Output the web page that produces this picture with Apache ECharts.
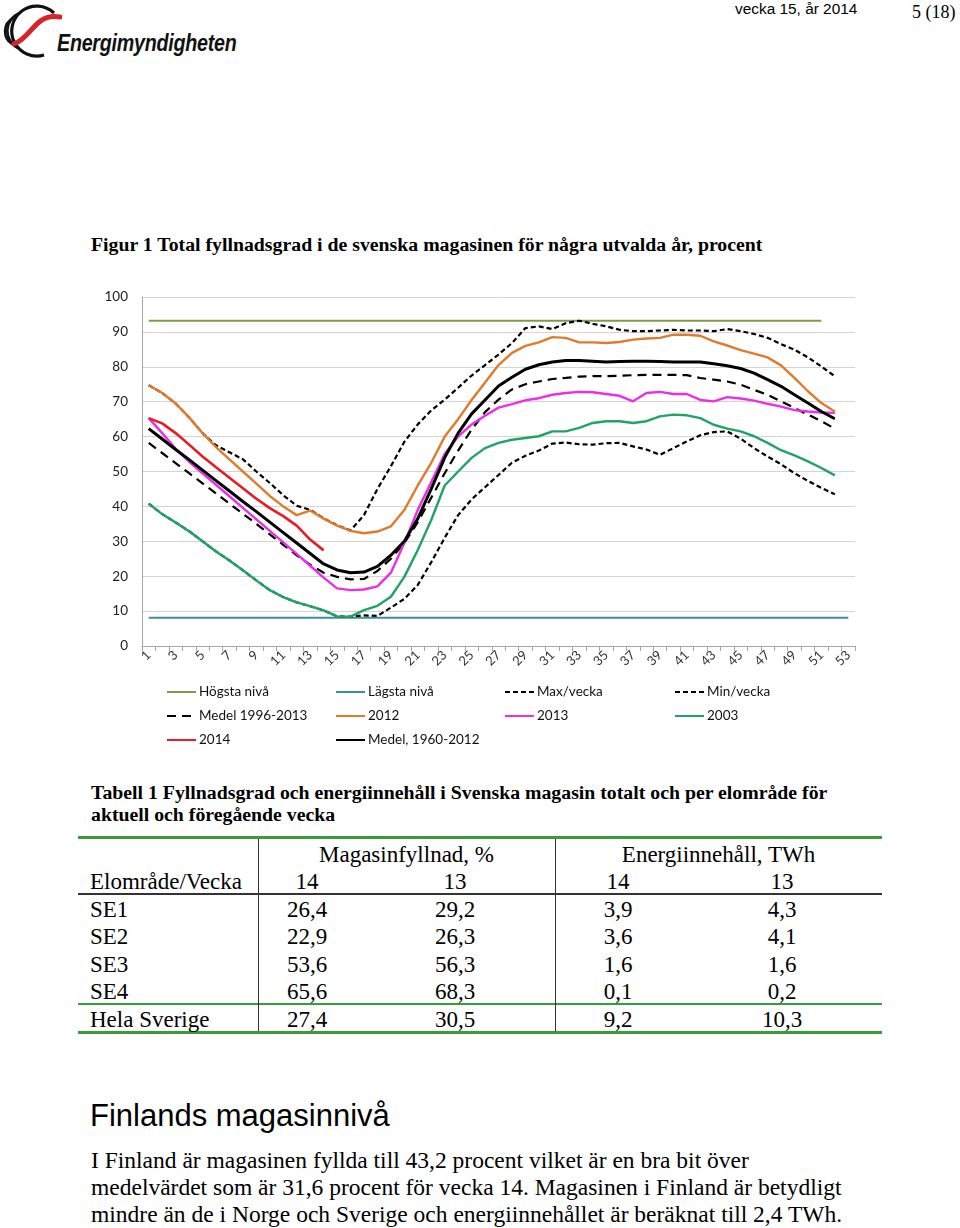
<!DOCTYPE html>
<html><head><meta charset="utf-8">
<script src="https://cdn.jsdelivr.net/npm/echarts@6/dist/echarts.min.js"></script>
<style>
html,body{margin:0;padding:0;background:#fff;}
body{width:960px;height:1228px;position:relative;overflow:hidden;color:#000;}
.a{position:absolute;white-space:nowrap;line-height:1;}
.serif{font-family:"Liberation Serif","Times New Roman",serif;}
.sans{font-family:"Liberation Sans",Arial,sans-serif;}
.hl{position:absolute;}
</style></head><body>
<script>
// ---------- data ----------
const weeks = ['1','2','3','4','5','6','7','8','9','10','11','12','13','14','15','16','17','18','19','20','21','22','23','24','25','26','27','28','29','30','31','32','33','34','35','36','37','38','39','40','41','42','43','44','45','46','47','48','49','50','51','52','53'];
const hogstaNiva = [['1',93.2],['51',93.2]];
const lagstaNiva = [['1',8.1],['53',8.1]];
const maxVecka = [74.7,72.5,69.5,65.5,61,57.5,55.5,53.5,50,46.7,43.2,40.2,39,36.6,34.6,33.1,37.5,45,51.5,58.5,63.5,67.5,70.6,74,77.5,80.5,83.5,86.8,91.1,91.6,90.8,92.5,93.2,92.3,91.6,90.6,90.2,90.2,90.4,90.6,90.4,90.4,90.2,90.8,90.2,89.4,88.3,86.5,84.9,82.7,80.1,77.3];
const minVecka = [40.8,37.8,35.4,32.9,30,27.1,24.5,21.7,18.8,16,14,12.5,11.4,10.2,8.5,8.4,8.8,8.6,11,13.5,17.5,24,31,37.5,42,45.5,49,52.5,54.5,56,58,58.3,57.8,57.7,58.1,58.2,57.2,56.3,54.8,56.7,58.6,60.4,61.3,61.5,59.4,56.7,54.3,52.1,49.5,47.3,45.3,43.5];
const medel1996_2013 = [58.2,55.3,52.4,49.5,46.6,43.7,40.8,37.9,35,32,29,26,23.3,21,19.8,19.1,19.2,21.5,25,29.5,35.5,42.5,49.5,56,62,67,70.6,73.5,75,75.8,76.5,76.8,77.2,77.3,77.3,77.4,77.6,77.7,77.7,77.7,77.6,76.8,76.3,75.8,74.9,73.4,72,70.1,68.2,66.3,64.4,62.3];
const y2012 = [74.7,72.5,69.5,65.5,61,57,53.5,50,46.5,43,40,37.5,38.8,36.5,34.5,33,32.3,32.8,34.3,39,46,52.5,60,65,70.5,75.5,80.5,84,86,87,88.5,88.3,87,87,86.8,87.1,87.8,88.1,88.3,89.2,89.2,88.9,87.3,86.1,84.8,83.8,82.7,80.4,76.8,73,69.6,67.2];
const y2013 = [65.3,61,56.5,52.8,49.5,46.2,42.9,39.6,36.3,33,29.7,26.4,23,19.6,16.5,16,16.2,17.1,21,29.5,39,47,55,60,63.5,66,68.3,69.3,70.4,71,72,72.5,72.8,72.7,72.2,71.7,70.1,72.5,72.8,72.2,72.2,70.5,70.1,71.3,70.9,70.3,69.4,68.6,67.6,67.2,66.9,66.8];
const y2003 = [40.8,37.8,35.4,32.9,30,27.1,24.5,21.7,18.8,16,14,12.5,11.4,10.2,8.5,8.4,10.3,11.5,14.1,19.8,27.5,36.1,46,50,53.9,56.7,58.2,59.1,59.6,60.1,61.5,61.5,62.5,63.9,64.4,64.4,63.9,64.4,65.8,66.3,66.1,65.3,63.4,62.3,61.5,60.1,58.2,56.1,54.6,52.9,51,48.9];
const y2014 = [65.3,63.8,61,57.7,54.3,51.2,48.2,45.2,42.2,39.5,37.2,34.5,30.5,27.4];
const medel1960_2012 = [62.3,59.3,56.3,53.4,50.4,47.4,44.4,41.4,38.5,35.5,32.5,29.5,26.5,23.5,21.8,21,21.2,22.8,26,30,36.5,45,54,61,66.5,70.5,74.5,77,79.3,80.6,81.4,81.8,81.8,81.6,81.4,81.5,81.6,81.6,81.5,81.4,81.4,81.4,80.9,80.3,79.5,78.2,76.3,74.4,72,69.6,67.2,65.1];
const yTicks = [0,10,20,30,40,50,60,70,80,90,100];
const seriesNames = ['Högsta nivå','Lägsta nivå','Max/vecka','Min/vecka','Medel 1996-2013','2012','2013','2003','2014','Medel, 1960-2012'];
const tableHead = ['Elområde/Vecka','14','13','14','13'];
const tableRows = [
  ['SE1','26,4','29,2','3,9','4,3'],
  ['SE2','22,9','26,3','3,6','4,1'],
  ['SE3','53,6','56,3','1,6','1,6'],
  ['SE4','65,6','68,3','0,1','0,2'],
  ['Hela Sverige','27,4','30,5','9,2','10,3']
];
</script>

<!-- header -->
<svg class="hl" style="left:0;top:0" width="62" height="62" viewBox="0 0 62 62">
  <path d="M54 13 A25 25 0 1 0 44 55" stroke="#111" stroke-width="3.2" fill="none"/>
  <path d="M20 13 A19 19 0 0 0 18 48" stroke="#111" stroke-width="2.6" fill="none"/>
  <path d="M13 18 A15 15 0 0 0 12 44" stroke="#111" stroke-width="2.4" fill="none"/>
  <path d="M14 44 C26 40 32 26 42 20 C48 16 54 16 60 17" stroke="#d8232a" stroke-width="5" fill="none" stroke-linecap="round"/>
</svg>
<div class="a" style="left:57px;top:31px;font-family:'Liberation Sans',Arial,sans-serif;font-style:italic;font-weight:bold;font-size:24px;transform:scaleX(0.82);transform-origin:0 0;letter-spacing:-0.3px;color:#111;">Energimyndigheten</div>
<div class="a sans" style="left:735px;top:1px;font-size:15.4px;">vecka 15, år 2014</div>
<div class="a serif" style="left:912px;top:3px;font-size:18px;">5 (18)</div>

<div class="a serif" style="left:91px;top:235px;font-size:19.8px;font-weight:bold;">Figur 1 Total fyllnadsgrad i de svenska magasinen för några utvalda år, procent</div>

<div id="chart" style="position:absolute;left:90px;top:280px;width:790px;height:480px;"></div>

<div class="a serif" style="left:91px;top:783px;font-size:19.8px;font-weight:bold;">Tabell 1 Fyllnadsgrad och energiinnehåll i Svenska magasin totalt och per elområde för</div>
<div class="a serif" style="left:91px;top:805px;font-size:19.8px;font-weight:bold;">aktuell och föregående vecka</div>

<div id="table"></div>

<div class="a sans" style="left:90px;top:1100px;font-size:31px;">Finlands magasinnivå</div>
<div class="a serif" style="left:91px;top:1149px;font-size:23.5px;">I Finland är magasinen fyllda till 43,2 procent vilket är en bra bit över</div>
<div class="a serif" style="left:91px;top:1176px;font-size:23.5px;">medelvärdet som är 31,6 procent för vecka 14. Magasinen i Finland är betydligt</div>
<div class="a serif" style="left:91px;top:1203px;font-size:23.5px;">mindre än de i Norge och Sverige och energiinnehållet är beräknat till 2,4 TWh.</div>

<script>
// ---------- table ----------
(function(){
  const t = document.getElementById('table');
  const green = '#3a9b3a';
  function line(x,y,w,h,col){const d=document.createElement('div');d.className='hl';d.style.cssText='left:'+x+'px;top:'+y+'px;width:'+w+'px;height:'+h+'px;background:'+col;t.appendChild(d);}
  function txt(s,x,cy,center){const d=document.createElement('div');d.className='a serif';d.textContent=s;d.style.fontSize='23px';d.style.top=(cy-11)+'px';
    if(center){d.style.left=(x-60)+'px';d.style.width='120px';d.style.textAlign='center';} else d.style.left=x+'px'; t.appendChild(d);}
  line(78,836,804,3,green);
  line(78,893,804,1.5,'#333');
  line(78,1003,804,2,green);
  line(78,1031,804,3,green);
  line(258,839,1.2,192,'#333');
  line(555,839,1.2,192,'#333');
  const colX=[307,455,618,782];
  const g1=document.createElement('div');g1.className='a serif';g1.textContent='Magasinfyllnad, %';g1.style.cssText='font-size:23px;left:258px;width:297px;text-align:center;top:843px;';t.appendChild(g1);
  const g2=document.createElement('div');g2.className='a serif';g2.textContent='Energiinnehåll, TWh';g2.style.cssText='font-size:23px;left:555px;width:327px;text-align:center;top:843px;';t.appendChild(g2);
  txt(tableHead[0],90,881,false);
  for(let i=1;i<5;i++) txt(tableHead[i],colX[i-1],881,true);
  const rowY=[909,936,964,991,1019];
  tableRows.forEach((r,ri)=>{
    txt(r[0],90,rowY[ri],false);
    for(let i=1;i<5;i++) txt(r[i],colX[i-1],rowY[ri],true);
  });
})();

// ---------- chart ----------
const chart = echarts.init(document.getElementById('chart'), null, {renderer:'canvas'});
const FONT = 'Lato, "Open Sans", sans-serif';
const colors = {
  hog:'#7f9a48', lag:'#3c8ea3', max:'#000', min:'#000', m96:'#000',
  y12:'#e07b2c', y13:'#ec2ee6', y03:'#1fa463', y14:'#e81a22', m60:'#000'
};
function mk(name, data, color, width, type){
  return {name, type:'line', data, symbol:'none', smooth:false, animation:false,
    lineStyle:{color, width, type: type||'solid', cap:'butt'}, itemStyle:{color}};
}
const series = [
  mk(seriesNames[0], hogstaNiva, colors.hog, 2.2),
  mk(seriesNames[1], lagstaNiva, colors.lag, 2.2),
  mk(seriesNames[2], maxVecka, colors.max, 2.2, [5,3]),
  mk(seriesNames[3], minVecka, colors.min, 2.2, [5,3]),
  mk(seriesNames[4], medel1996_2013, colors.m96, 2.2, [9,6]),
  mk(seriesNames[5], y2012, colors.y12, 2.4),
  mk(seriesNames[6], y2013, colors.y13, 2.4),
  mk(seriesNames[7], y2003, colors.y03, 2.4),
  mk(seriesNames[8], y2014, colors.y14, 2.6),
  mk(seriesNames[9], medel1960_2012, colors.m60, 3)
];
const colL=[76,245,414,584], rowT=[405,429,453];
const legends = seriesNames.map((n,i)=>({
  data:[n], left: colL[i%4], top: rowT[Math.floor(i/4)], orient:'horizontal',
  itemWidth:29, itemHeight:14, itemGap:0, padding:0,
  itemStyle:{opacity:0, borderWidth:0},
  textStyle:{fontFamily:FONT, fontSize:13.5, color:'#111', padding:[0,0,0,-2]},
  selectedMode:false
}));
chart.setOption({
  animation:false,
  grid:{left:52, top:17, right:25, bottom:114, containLabel:false},
  legend: legends,
  xAxis:{type:'category', data:weeks, boundaryGap:true,
    axisLine:{show:true, lineStyle:{color:'#a6a6a6', width:1}},
    axisTick:{show:true, interval:0, length:5, lineStyle:{color:'#a6a6a6'}},
    axisLabel:{interval:1, rotate:45, fontFamily:FONT, fontSize:13, color:'#333', margin:7},
    splitLine:{show:false}},
  yAxis:{type:'value', min:yTicks[0], max:yTicks[yTicks.length-1], interval:10,
    axisLine:{show:true, lineStyle:{color:'#a6a6a6'}},
    axisTick:{show:false},
    axisLabel:{fontFamily:FONT, fontSize:13.5, color:'#222', margin:14},
    splitLine:{show:true, lineStyle:{color:'#d4d4d4', width:1}}},
  series
});
</script>
</body></html>
